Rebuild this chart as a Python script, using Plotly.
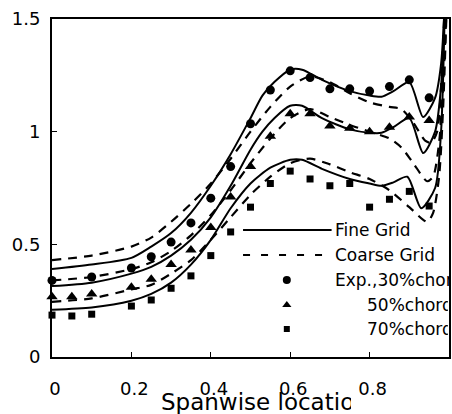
import plotly.graph_objects as go

# ---------------- data ----------------
fine30_x = [0, .1, .2, .25, .3, .35, .4, .45, .5, .53, .56, .6, .63, .68, .75, .8, .83, .86, .9, .935, .965, .98, .99]
fine30_y = [.39, .41, .44, .49, .55, .64, .76, .90, 1.06, 1.16, 1.22, 1.275, 1.275, 1.23, 1.18, 1.16, 1.155, 1.18, 1.22, 1.065, 1.15, 1.3, 1.6]

fine50_x = [0, .1, .2, .25, .3, .35, .4, .45, .5, .53, .56, .6, .63, .68, .75, .8, .83, .86, .9, .935, .965, .98, .99]
fine50_y = [.315, .33, .37, .40, .45, .52, .62, .76, .92, 1.0, 1.06, 1.115, 1.115, 1.06, 1.01, .995, .995, 1.02, 1.06, .905, 1.0, 1.2, 1.6]

fine70_x = [0, .1, .2, .25, .3, .35, .4, .45, .5, .55, .6, .63, .68, .75, .8, .83, .86, .895, .93, .965, .98, .99]
fine70_y = [.21, .22, .25, .28, .33, .41, .52, .66, .77, .84, .875, .875, .835, .79, .77, .76, .775, .80, .66, .75, 1.0, 1.6]

coarse30_x = [0, .1, .2, .25, .3, .35, .4, .45, .5, .55, .6, .65, .7, .75, .8, .85, .88, .91, .94, .955, .97, .98, .99]
coarse30_y = [.43, .45, .49, .53, .60, .68, .77, .88, 1.0, 1.11, 1.20, 1.245, 1.22, 1.17, 1.13, 1.11, 1.10, 1.04, .96, .95, 1.0, 1.2, 1.6]

coarse50_x = [0, .1, .2, .25, .3, .35, .4, .45, .5, .55, .6, .65, .7, .75, .8, .85, .88, .91, .945, .96, .975, .985, .995]
coarse50_y = [.34, .355, .39, .42, .47, .54, .63, .74, .86, .97, 1.06, 1.10, 1.065, 1.03, 1.0, .97, .93, .86, .78, .80, .95, 1.2, 1.6]

coarse70_x = [0, .1, .2, .25, .3, .35, .4, .45, .5, .55, .6, .65, .7, .75, .8, .85, .9, .945, .96, .975, .985, .995]
coarse70_y = [.245, .26, .30, .32, .37, .43, .52, .62, .72, .80, .86, .88, .855, .82, .79, .74, .665, .60, .64, .80, 1.1, 1.6]

exp30_x = [0, .1, .2, .25, .3, .35, .4, .45, .5, .55, .6, .65, .7, .75, .8, .85, .9, .95]
exp30_y = [.34, .355, .395, .445, .51, .595, .705, .845, 1.035, 1.185, 1.27, 1.24, 1.19, 1.19, 1.18, 1.20, 1.23, 1.15]

exp50_x = [0, .05, .1, .2, .25, .3, .35, .4, .45, .5, .55, .6, .65, .7, .75, .8, .85, .9, .95]
exp50_y = [.267, .267, .28, .31, .345, .41, .475, .575, .71, .845, .98, 1.08, 1.08, 1.025, 1.015, 1.0, 1.02, 1.065, 1.05]

exp70_x = [0, .05, .1, .2, .25, .3, .35, .4, .45, .5, .55, .6, .65, .7, .75, .8, .85, .9, .95]
exp70_y = [.186, .182, .19, .226, .253, .305, .36, .45, .555, .665, .77, .825, .79, .76, .77, .665, .70, .735, .67]

x_ticks = [0, 0.2, 0.4, 0.6, 0.8, 1.0]
x_ticklabels = ["0", "0.2", "0.4", "0.6", "0.8", "1"]
y_ticks = [0, 0.5, 1.0, 1.5]
y_ticklabels = ["0", "0.5", "1", "1.5"]

legend_labels = ["Fine Grid", "Coarse Grid", "Exp.,30%chord", "50%chord", "70%chord"]
x_title = "Spanwise location"

# ---------------- figure ----------------
W, H = 452, 414
ML, MR, MT, MB = 52, 1, 19, 57
PW, PH = W - ML - MR, H - MT - MB

def px2x(px):
    return (px - ML) / PW

def py2y(py):
    return (H - MB - py) / PH

BLACK = "black"
DASH = "9px,7px"
SPL = dict(shape="spline", smoothing=0.7)

fig = go.Figure()

for xs, ys in [(fine30_x, fine30_y), (fine50_x, fine50_y), (fine70_x, fine70_y)]:
    fig.add_trace(go.Scatter(x=xs, y=ys, mode="lines",
                             line=dict(color=BLACK, width=2, **SPL)))
for xs, ys in [(coarse30_x, coarse30_y), (coarse50_x, coarse50_y), (coarse70_x, coarse70_y)]:
    fig.add_trace(go.Scatter(x=xs, y=ys, mode="lines",
                             line=dict(color=BLACK, width=2.2, dash=DASH, **SPL)))

fig.add_trace(go.Scatter(x=exp30_x, y=exp30_y, mode="markers", cliponaxis=False,
                         marker=dict(symbol="circle", size=9, color=BLACK)))
fig.add_trace(go.Scatter(x=exp50_x, y=exp50_y, mode="markers", cliponaxis=False,
                         marker=dict(symbol="triangle-up", size=10, color=BLACK)))
fig.add_trace(go.Scatter(x=exp70_x, y=exp70_y, mode="markers", cliponaxis=False,
                         marker=dict(symbol="square", size=7, color=BLACK)))

# legend drawn on an overlay axis spanning the plot area (0..1)
lx0, lx1, lxm = px2x(244), px2x(333), px2x(288)
row_py = [230, 255, 280, 305, 329]
row_y = [py2y(p) for p in row_py]
fig.add_trace(go.Scatter(x=[lx0, lx1], y=[row_y[0]] * 2, mode="lines", xaxis="x2", yaxis="y2",
                         line=dict(color=BLACK, width=2)))
fig.add_trace(go.Scatter(x=[lx0, lx1], y=[row_y[1]] * 2, mode="lines", xaxis="x2", yaxis="y2",
                         line=dict(color=BLACK, width=2, dash="7px,11px")))
for sym, sz, yy in [("circle", 8, row_y[2]), ("triangle-up", 8, row_y[3]), ("square", 6, row_y[4])]:
    fig.add_trace(go.Scatter(x=[lxm], y=[yy], mode="markers", xaxis="x2", yaxis="y2",
                             marker=dict(symbol=sym, size=sz, color=BLACK)))

text_px = [335, 335, 335, 368, 368]
clip_px = 449
for lab, tx, yy in zip(legend_labels, text_px, row_y):
    fig.add_annotation(text=lab, xref="paper", yref="paper", x=px2x(tx), y=yy,
                       xanchor="left", yanchor="middle", align="left", showarrow=False,
                       width=clip_px - tx, borderpad=0,
                       font=dict(family="DejaVu Sans", size=17, color=BLACK))

fig.add_annotation(text=x_title, xref="paper", yref="paper", x=px2x(161), y=py2y(402),
                   xanchor="left", yanchor="middle", align="left", showarrow=False,
                   width=351 - 161, borderpad=0,
                   font=dict(family="DejaVu Sans", size=23, color=BLACK))

axis_common = dict(showline=True, linewidth=2, linecolor=BLACK, mirror=True,
                   ticks="inside", ticklen=5, tickwidth=1, tickcolor=BLACK,
                   showgrid=False, zeroline=False,
                   tickfont=dict(family="DejaVu Sans", size=18, color=BLACK))

fig.update_layout(
    width=W, height=H,
    margin=dict(l=ML, r=MR, t=MT, b=MB, pad=0),
    plot_bgcolor="white", paper_bgcolor="white",
    showlegend=False,
    xaxis=dict(range=[0, 1], tickvals=x_ticks, ticktext=x_ticklabels,
               ticklabelstandoff=14, ticklabelshift=3, **axis_common),
    yaxis=dict(range=[0, 1.5], tickvals=y_ticks, ticktext=y_ticklabels,
               ticklabelstandoff=6, **axis_common),
    xaxis2=dict(overlaying="x", range=[0, 1], visible=False),
    yaxis2=dict(overlaying="y", range=[0, 1], visible=False),
)

fig.write_html("out.html")
